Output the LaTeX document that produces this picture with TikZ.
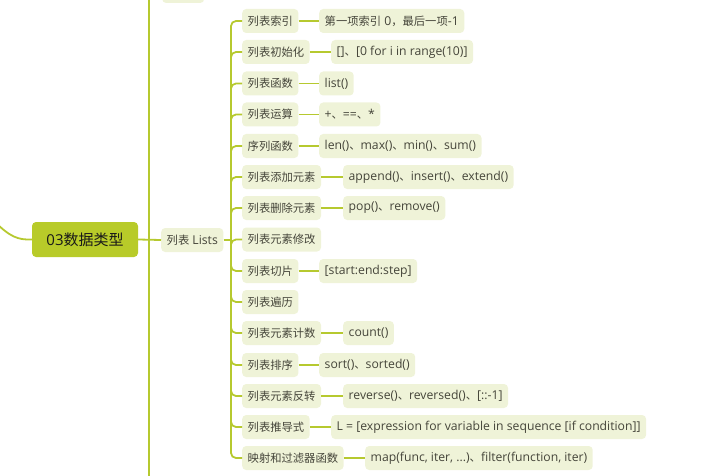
\documentclass[tikz,border=0pt]{standalone}
\usepackage{fontspec}
\setmainfont{Open Sans}
\newfontfamily\cjk{Noto Sans CJK SC}
\newcommand{\zh}[1]{{\cjk\fontsize{11.3}{13}\selectfont #1}}
\definecolor{lineC}{HTML}{B6C92F}
\definecolor{mainF}{HTML}{B8CB29}
\definecolor{lightF}{HTML}{EFF3D8}
\definecolor{txtC}{HTML}{45453A}
\tikzset{
  ln/.style={draw=lineC, line width=1.8pt},
  br/.style={draw=lineC, line width=1.8pt, rounded corners=5pt},
  mainbox/.style={fill=mainF, rounded corners=4pt, minimum width=106pt, minimum height=35pt, inner sep=0pt, font=\fontsize{15}{18}\selectfont, text=black!90},
  kid/.style={anchor=west, fill=lightF, rounded corners=4pt, minimum height=24pt, inner xsep=5.5pt, inner ysep=0pt, font=\fontsize{12.2}{13}\selectfont, text=txtC},
  gk/.style={kid},
}
\begin{document}
\begin{tikzpicture}[x=1pt,y=-1pt]
\useasboundingbox (0,0) rectangle (720,476);
\clip (0,0) rectangle (720,476);
% parent level
\coordinate (root) at (-6,221);
\coordinate (hubA) at (149,240);
\coordinate (topA) at (149,-30);
\coordinate (botA) at (149,500);
\coordinate (hubB) at (231,240);
\node[mainbox] (c) at (85,239.5) {03{\cjk 数据类型}};
\draw[ln] (root) .. controls (10,237) and (18,240) .. (c.west);
\draw[ln, line width=2.2pt] (topA) -- (botA);
\node[kid, minimum width=42pt] (top) at (162,-9) {};
\draw[br] (hubA) |- (top.west);
\node[kid] (lists) at (161,240) {\zh{列表} Lists};
\draw[ln] (c.east) -- (lists.west);
\draw[ln] (lists.east) -- (hubB);
% children
\node[kid] (k1) at (242,21) {\zh{列表索引}};
\node[kid] (k2) at (242,52) {\zh{列表初始化}};
\node[kid] (k3) at (242,83.5) {\zh{列表函数}};
\node[kid] (k4) at (242,114.5) {\zh{列表运算}};
\node[kid] (k5) at (242,146) {\zh{序列函数}};
\node[kid] (k6) at (242,177) {\zh{列表添加元素}};
\node[kid] (k7) at (242,208) {\zh{列表删除元素}};
\node[kid] (k8) at (242,239.5) {\zh{列表元素修改}};
\node[kid] (k9) at (242,271) {\zh{列表切片}};
\node[kid] (k10) at (242,302) {\zh{列表遍历}};
\node[kid] (k11) at (242,333) {\zh{列表元素计数}};
\node[kid] (k12) at (242,365) {\zh{列表排序}};
\node[kid] (k13) at (242,396) {\zh{列表元素反转}};
\node[kid] (k14) at (242,427) {\zh{列表推导式}};
\node[kid] (k15) at (242,458) {\zh{映射和过滤器函数}};
\foreach \k in {k1,k2,k3,k4,k5,k6,k7,k8,k9,k10,k11,k12,k13,k14,k15}{
  \draw[br] (hubB) |- (\k.west);
}
% grandchildren
\node[gk] (g1) at (319,21) {\zh{第一项索引} 0\zh{，最后一项}-1};
\node[gk] (g2) at (331,52) {[]\zh{、}[0 for i in range(10)]};
\node[gk] (g3) at (319,83.5) {list()};
\node[gk] (g4) at (319,114.5) {+\zh{、}==\zh{、}*};
\node[gk] (g5) at (319,146) {len()\zh{、}max()\zh{、}min()\zh{、}sum()};
\node[gk] (g6) at (343,177) {append()\zh{、}insert()\zh{、}extend()};
\node[gk] (g7) at (343,208) {pop()\zh{、}remove()};
\node[gk] (g9) at (319,271) {[start:end:step]};
\node[gk] (g11) at (343,333) {count()};
\node[gk] (g12) at (319,365) {sort()\zh{、}sorted()};
\node[gk] (g13) at (343,396) {reverse()\zh{、}reversed()\zh{、}[::-1]};
\node[gk] (g14) at (331,427) {L = [expression for variable in sequence [if condition]]};
\node[gk] (g15) at (365,458) {map(func, iter, ...)\zh{、}filter(function, iter)};
\foreach \a/\b in {k1/g1,k2/g2,k3/g3,k4/g4,k5/g5,k6/g6,k7/g7,k9/g9,k11/g11,k12/g12,k13/g13,k14/g14,k15/g15}{
  \draw[ln] (\a.east) -- (\b.west);
}
\end{tikzpicture}
\end{document}
